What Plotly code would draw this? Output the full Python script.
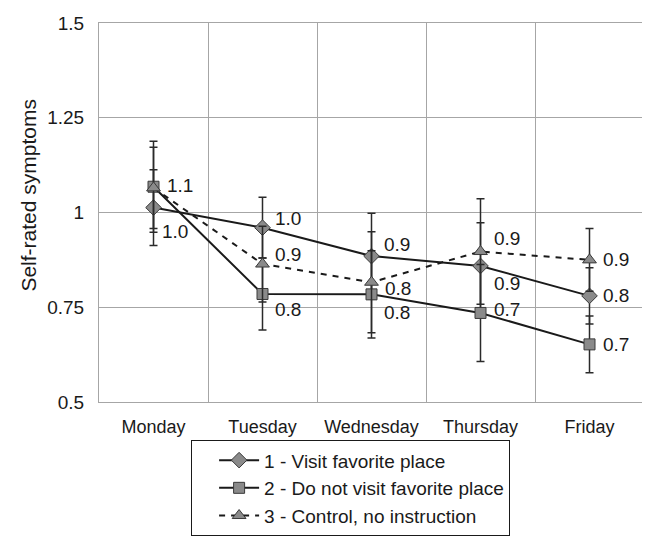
import plotly.graph_objects as go

days = ["Monday", "Tuesday", "Wednesday", "Thursday", "Friday"]

visit = [1.013, 0.960, 0.885, 0.859, 0.780]
visit_err = [0.100, 0.080, 0.113, 0.114, 0.074]

novisit = [1.068, 0.785, 0.784, 0.735, 0.652]
novisit_err = [0.120, 0.095, 0.115, 0.128, 0.075]

control = [1.065, 0.864, 0.816, 0.897, 0.875]
control_err = [0.107, 0.100, 0.133, 0.139, 0.083]

y_ticks = [0.5, 0.75, 1, 1.25, 1.5]
y_tick_text = ["0.5", "0.75", "1", "1.25", "1.5"]

names = ["1 - Visit favorite place", "2 - Do not visit favorite place", "3 - Control, no instruction"]
y_title = "Self-rated symptoms"

FONT = "Liberation Sans, Arial, sans-serif"
TXT = "#1a1a1a"
LINE = "#1a1a1a"
MARK = "#8a8a8a"
MARK_EDGE = "#3a3a3a"
GRID = "#a6a6a6"

# (values, errors, name, symbol, size, dash, label y-shifts, label x-shifts, label shown)
series = [
    (visit, visit_err, names[0], "diamond", 12, "solid",
     [-24, 9, 12, -18, 0], [6, 10, 10, 11, 11], [True] * 5),
    (novisit, novisit_err, names[1], "square", 11, "solid",
     [1, -16, -18, 3, 0], [11, 10, 10, 11, 11], [True] * 5),
    (control, control_err, names[2], "triangle-up", 12, "6px,6px",
     [1, 10, -6, 13, 0], [11, 10, 11, 11, 11], [False, True, True, True, True]),
]

fig = go.Figure()
annotations = []
for vals, errs, name, sym, size, dash, yshifts, xshifts, shown in series:
    fig.add_trace(go.Scatter(
        x=days, y=vals, name=name, mode="lines+markers",
        line=dict(color=LINE, width=2, dash=dash),
        marker=dict(symbol=sym, size=size, color=MARK, line=dict(color=MARK_EDGE, width=1)),
        error_y=dict(type="data", array=errs, visible=True, color="#2a2a2a", thickness=1.5, width=4),
    ))
    for d, v, ys, xs, sh in zip(days, vals, yshifts, xshifts, shown):
        if not sh:
            continue
        annotations.append(dict(
            x=d, y=v, text=f"{v:.1f}", showarrow=False, xanchor="left", yanchor="middle",
            xshift=xs, yshift=ys, font=dict(family=FONT, size=19, color=TXT),
        ))

annotations.append(dict(
    text=y_title, xref="paper", yref="paper", x=-0.13, y=0.545,
    xanchor="center", yanchor="middle", textangle=-90, showarrow=False,
    font=dict(family=FONT, size=21, color=TXT),
))

# the page body adds an 8px offset, so the figure is 8px smaller on each of those sides
fig.update_layout(
    width=642, height=534,
    margin=dict(l=91, r=6, t=15, b=123),
    paper_bgcolor="white", plot_bgcolor="white",
    font=dict(family=FONT, size=19, color=TXT),
    annotations=annotations,
    showlegend=True,
    legend=dict(
        x=0.169, y=-0.101, xanchor="left", yanchor="top",
        bgcolor="white", bordercolor="#1a1a1a", borderwidth=1,
        font=dict(family=FONT, size=19, color=TXT),
        itemwidth=40, indentation=22, traceorder="normal", tracegroupgap=0,
    ),
    xaxis=dict(
        type="category", range=[-0.5, 4.5], tickson="boundaries", showgrid=True, gridcolor=GRID, gridwidth=1,
        showline=True, linecolor=GRID, linewidth=1, mirror=True, ticks="", automargin=False,
        tickfont=dict(family=FONT, size=18, color=TXT), ticklabelstandoff=8,
    ),
    yaxis=dict(
        range=[0.5, 1.5], tickvals=y_ticks, ticktext=y_tick_text, automargin=False,
        showgrid=True, gridcolor=GRID, gridwidth=1, zeroline=False,
        showline=True, linecolor=GRID, linewidth=1, mirror=True, ticks="",
        tickfont=dict(family=FONT, size=19, color=TXT), ticklabelstandoff=10,
    ),
)

fig.write_html("out.html")
